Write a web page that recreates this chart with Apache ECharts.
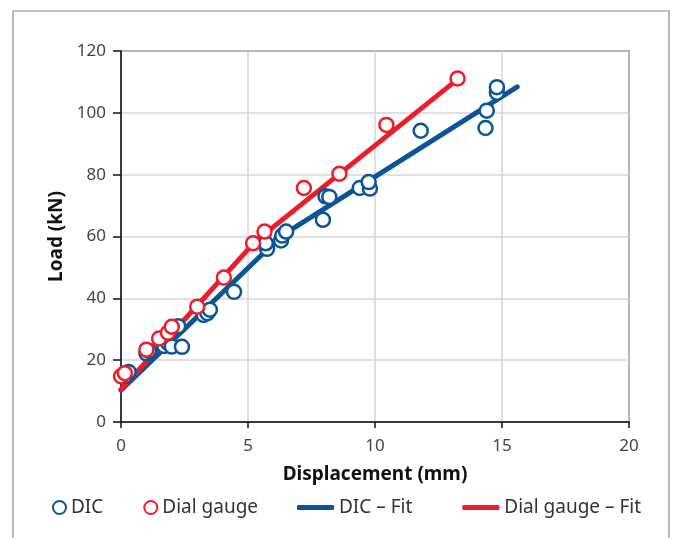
<!DOCTYPE html>
<html>
<head>
<meta charset="utf-8">
<script src="https://cdn.jsdelivr.net/npm/echarts@6/dist/echarts.min.js"></script>
<style>html,body{margin:0;padding:0;background:#fff;}#c{width:678px;height:538px;}</style>
</head>
<body>
<div id="c"></div>
<script>
// Data
var dicX = [0.2, 0.3, 1.0, 1.1, 1.7, 1.85, 2.0, 2.4, 2.25, 3.25, 3.4, 3.5, 4.45, 5.75, 5.7, 6.3, 6.35, 6.5, 7.95, 8.05, 8.2, 9.4, 9.8, 9.75, 11.8, 14.4, 14.35, 14.8, 14.8];
var dicY = [15.0, 16.2, 22.2, 23.0, 24.6, 25.6, 24.4, 24.3, 31.0, 34.6, 35.2, 36.3, 42.1, 56.0, 57.8, 58.7, 60.3, 61.6, 65.4, 73.0, 72.8, 75.7, 75.5, 77.6, 94.2, 100.7, 95.1, 106.5, 108.3];
var dialX = [0.0, 0.15, 1.0, 1.5, 1.85, 2.0, 3.0, 4.05, 5.2, 5.65, 7.2, 8.6, 10.45, 13.25];
var dialY = [14.8, 15.8, 23.4, 27.0, 28.9, 30.8, 37.3, 46.7, 57.8, 61.6, 75.7, 80.3, 96.1, 111.1];
var dicFitX = [0, 6.3, 15.6];
var dicFitY = [10.3, 60.1, 108.4];
var dialFitX = [0, 5.3, 13.2];
var dialFitY = [10.5, 58.5, 110.5];
var xTicks = [0, 5, 10, 15, 20];
var yTicks = [0, 20, 40, 60, 80, 100, 120];
var names = ['DIC', 'Dial gauge', 'DIC \u2013 Fit', 'Dial gauge \u2013 Fit'];

var BLUE = '#0b5596';
var RED = '#ec1c2b';
var FONT = 'Noto Sans';

function pairs(xs, ys) { return xs.map(function (x, i) { return [x, ys[i]]; }); }

var chart = echarts.init(document.getElementById('c'), null, { renderer: 'canvas' });
chart.setOption({
  animation: false,
  backgroundColor: '#fff',
  graphic: [{
    type: 'rect', silent: true, z: -1,
    shape: { x: 13, y: 11, width: 656, height: 560 },
    style: { fill: 'none', stroke: '#8c8c8c', lineWidth: 1.2 }
  }],
  grid: { left: 121, right: 49, top: 51, bottom: 116, show: true, borderColor: '#222', borderWidth: 1.5, backgroundColor: 'transparent' },
  xAxis: {
    type: 'value', min: xTicks[0], max: xTicks[xTicks.length - 1], interval: 5,
    name: 'Displacement (mm)', nameLocation: 'middle', nameGap: 43,
    nameTextStyle: { fontFamily: FONT, fontWeight: 'bold', fontSize: 19, color: '#111' },
    axisLine: { show: true, onZero: false, lineStyle: { color: '#111', width: 1.5 } },
    axisTick: { show: true, length: 6, lineStyle: { color: '#111', width: 1.5 } },
    axisLabel: { margin: 16, fontFamily: FONT, fontSize: 17, color: '#444' },
    splitLine: { show: true, lineStyle: { color: '#d6d6d6', width: 1.5 } }
  },
  yAxis: {
    type: 'value', min: yTicks[0], max: yTicks[yTicks.length - 1], interval: 20,
    name: 'Load (kN)', nameLocation: 'middle', nameGap: 55,
    nameTextStyle: { fontFamily: FONT, fontWeight: 'bold', fontSize: 19, color: '#111' },
    axisLine: { show: true, onZero: false, lineStyle: { color: '#111', width: 1.5 } },
    axisTick: { show: true, length: 8, lineStyle: { color: '#111', width: 1.5 } },
    axisLabel: { margin: 15, fontFamily: FONT, fontSize: 17, color: '#444' },
    splitLine: { show: true, lineStyle: { color: '#d6d6d6', width: 1.5 } }
  },
  legend: [{
    data: [{ name: names[0], icon: 'circle' }, { name: names[1], icon: 'circle' }],
    left: 47, top: 493, itemWidth: 13, itemHeight: 13, itemGap: 40,
    textStyle: { fontFamily: FONT, fontSize: 19, color: '#333' }
  }, {
    data: [{ name: names[2], icon: 'roundRect' }, { name: names[3], icon: 'roundRect' }],
    left: 292, top: 493, itemWidth: 37, itemHeight: 5, itemGap: 50,
    textStyle: { fontFamily: FONT, fontSize: 19, color: '#333' }
  }],
  series: [{
    name: names[2], type: 'line', data: pairs(dicFitX, dicFitY), symbol: 'none', z: 2,
    lineStyle: { color: BLUE, width: 5, cap: 'round' }, itemStyle: { color: BLUE }
  }, {
    name: names[3], type: 'line', data: pairs(dialFitX, dialFitY), symbol: 'none', z: 3,
    lineStyle: { color: RED, width: 5, cap: 'round' }, itemStyle: { color: RED }
  }, {
    name: names[0], type: 'scatter', data: pairs(dicX, dicY), symbol: 'circle', symbolSize: 14, z: 4,
    itemStyle: { color: '#fff', borderColor: BLUE, borderWidth: 2.5, opacity: 1 }
  }, {
    name: names[1], type: 'scatter', data: pairs(dialX, dialY), symbol: 'circle', symbolSize: 14, z: 5,
    itemStyle: { color: '#fff', borderColor: RED, borderWidth: 2.5, opacity: 1 }
  }]
});
</script>
</body>
</html>
